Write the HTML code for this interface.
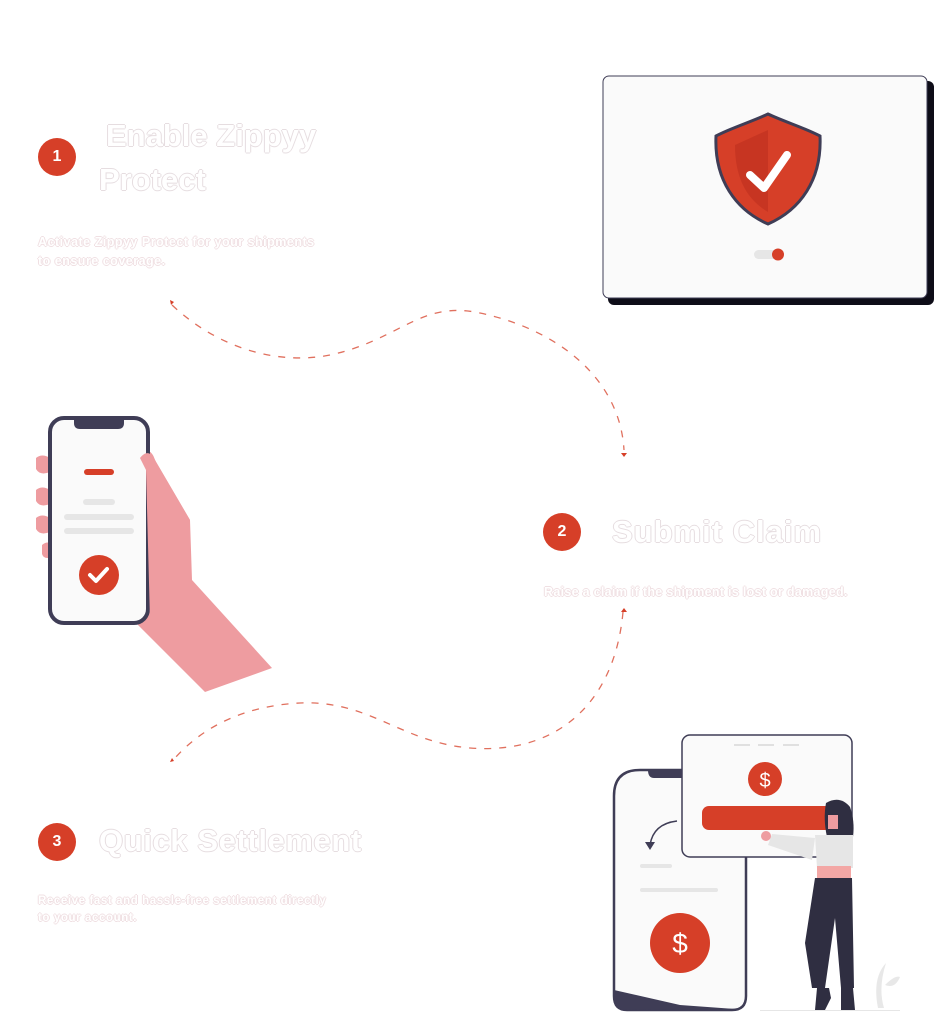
<!DOCTYPE html>
<html><head><meta charset="utf-8">
<style>
html,body{margin:0;padding:0;background:#fff;}
body{width:935px;height:1024px;position:relative;overflow:hidden;font-family:"Liberation Sans",sans-serif;}
.num{position:absolute;width:38px;height:38px;border-radius:50%;background:#d63f28;color:#fff;font-size:16px;font-weight:bold;text-align:center;line-height:38px;}
.h{position:absolute;color:#fff;font-weight:bold;font-size:31px;line-height:36px;white-space:nowrap;
text-shadow:1px 0 0 #e6dde0,-1px 0 0 #e6dde0,0 1px 0 #e6dde0,0 -1px 0 #e6dde0;}
.d{position:absolute;color:#fff;font-size:12.5px;line-height:19px;font-weight:bold;white-space:nowrap;letter-spacing:0.5px;
text-shadow:1px 0 0 #f0e0e3,-1px 0 0 #f0e0e3,0 1px 0 #f0e0e3,0 -1px 0 #f0e0e3;}
svg{position:absolute;left:0;top:0;}
</style></head><body>
<svg width="935" height="1024" viewBox="0 0 935 1024">
<path d="M172,305 C220,350 280,365 330,355 C400,340 420,300 480,313 C560,330 620,380 624,450" fill="none" stroke="#e0705e" stroke-width="1.3" stroke-dasharray="7,8"/>
<path d="M623,612 C615,700 560,755 470,748 C400,742 370,700 300,703 C240,706 200,730 175,758" fill="none" stroke="#e0705e" stroke-width="1.3" stroke-dasharray="7,8"/>
<path d="M170,300 l4,2 -3,3z" fill="#d63f28"/>
<path d="M621,453 l6,0 -3,4z" fill="#d63f28"/>
<path d="M621,612 l6,0 -3,-4z" fill="#d63f28"/>
<path d="M170,762 l4,-1 -2,-3z" fill="#d63f28"/>

<rect x="608" y="81" width="326" height="224" rx="6" fill="#0e0d18"/>
<rect x="603" y="76" width="324" height="222" rx="6" fill="#fafafa" stroke="#3f3d56" stroke-width="1"/>
<path d="M768,114 C785,122 805,128 820,136 C822,180 800,210 768,224 C736,210 714,180 716,136 C731,128 751,122 768,114z" fill="#d63f28" stroke="#3f3d56" stroke-width="3"/>
<path d="M768,130 L735,145 C735,180 748,200 768,212z" fill="#c1321f" opacity="0.7"/>
<path d="M750,175 L764,188 L787,155" fill="none" stroke="#fff" stroke-width="8" stroke-linecap="round" stroke-linejoin="round"/>
<rect x="754" y="250" width="24" height="9" rx="4.5" fill="#e6e6e6"/>
<circle cx="778" cy="254.5" r="6" fill="#d63f28"/>

<path d="M36,458 q6,-5 14,0 v14 q-10,4 -14,-3z M36,490 q6,-5 14,0 v14 q-10,4 -14,-3z M36,518 q6,-5 14,0 v14 q-10,4 -14,-3z M42,545 q6,-5 10,0 v12 q-8,3 -10,-3z" fill="#ee9ca0"/>
<path d="M140,455 C146,448 152,450 155,460 L190,520 L192,580 L272,668 L205,692 L138,625 L140,455z" fill="#ee9ca0"/>
<rect x="50" y="418" width="98" height="205" rx="14" fill="#fafafa" stroke="#3f3d56" stroke-width="4"/>
<path d="M74,418 h50 v5 q0,6 -6,6 h-38 q-6,0 -6,-6z" fill="#3f3d56"/>
<path d="M140,458 C146,450 152,452 156,462 L190,520 L190,600 L150,620 L146,470z" fill="#ee9ca0"/>
<rect x="84" y="469" width="30" height="6" rx="3" fill="#d63f28"/>
<rect x="83" y="499" width="32" height="6" rx="3" fill="#e6e6e6"/>
<rect x="64" y="514" width="70" height="6" rx="3" fill="#e6e6e6"/>
<rect x="64" y="528" width="70" height="6" rx="3" fill="#e6e6e6"/>
<circle cx="99" cy="575" r="20" fill="#d63f28"/>
<path d="M90,575 l6,6 l11,-12" fill="none" stroke="#fff" stroke-width="4" stroke-linecap="round" stroke-linejoin="round"/>

<path d="M640,770 h100 q6,0 6,6 v220 q0,14 -14,14 h-105 q-13,0 -13,-14 v-200 q0,-26 26,-26z" fill="#fafafa" stroke="#3f3d56" stroke-width="2.5"/>
<path d="M614,990 L680,1005 L735,1009 L627,1010 q-13,0 -13,-14z" fill="#3f3d56"/>
<path d="M648,770 h34 v8 h-28 q-6,0 -6,-8z" fill="#3f3d56"/>
<rect x="640" y="864" width="32" height="4" rx="2" fill="#e6e6e6"/>
<rect x="640" y="888" width="78" height="4" rx="2" fill="#e6e6e6"/>
<path d="M677,821 C660,823 652,832 650,845" fill="none" stroke="#3f3d56" stroke-width="1.5"/>
<path d="M645,842 l5,8 l5,-8z" fill="#3f3d56"/>
<circle cx="680" cy="943" r="30" fill="#d63f28"/>
<text x="680" y="953" font-family="Liberation Sans,sans-serif" font-size="28" fill="#fff" text-anchor="middle">$</text>
<rect x="682" y="735" width="170" height="122" rx="8" fill="#fafafa" stroke="#3f3d56" stroke-width="1.5"/>
<rect x="734" y="744" width="16" height="2" fill="#e0e0e0"/><rect x="758" y="744" width="16" height="2" fill="#e0e0e0"/><rect x="783" y="744" width="16" height="2" fill="#e0e0e0"/>
<circle cx="765" cy="779" r="17" fill="#d63f28"/>
<text x="765" y="787" font-family="Liberation Sans,sans-serif" font-size="20" fill="#fff" text-anchor="middle">$</text>
<rect x="702" y="806" width="130" height="24" rx="7" fill="#d63f28"/>
<path d="M826,803 q14,-8 24,4 q5,14 3,30 h-26 q-4,-18 -1,-34z" fill="#2f2e41"/>
<rect x="828" y="815" width="10" height="14" fill="#ee9ca0"/>
<path d="M815,835 h38 v33 h-36z" fill="#e6e6e6"/>
<path d="M815,838 L772,834 L768,845 L812,860z" fill="#e6e6e6"/>
<circle cx="766" cy="836" r="5" fill="#ee9ca0"/>
<rect x="817" y="866" width="34" height="12" fill="#f3a7a5"/>
<path d="M815,878 h37 l2,110 h-13 l-6,-70 l-10,70 h-13 l-7,-45z" fill="#2f2e41"/>
<path d="M817,988 h12 l2,10 l-6,12 h-10z M841,988 h12 l2,22 h-14z" fill="#2f2e41"/>
<path d="M878,1008 q-6,-30 8,-45 q-8,25 -2,45z M885,985 q10,-10 15,-8 q-5,12 -15,8z" fill="#e8e8e8"/>
<rect x="760" y="1010" width="140" height="1" fill="#e6e6e6"/>
</svg>

<div class="num" style="left:38px;top:138px;">1</div>
<div class="h" style="left:106px;top:118px;">Enable Zippyy</div>
<div class="h" style="left:99px;top:162px;">Protect</div>
<div class="d" style="left:38px;top:233px;">Activate Zippyy Protect for your shipments<br>to ensure coverage.</div>

<div class="num" style="left:543px;top:513px;">2</div>
<div class="h" style="left:612px;top:514px;letter-spacing:1px;">Submit Claim</div>
<div class="d" style="left:544px;top:583px;letter-spacing:0.3px;">Raise a claim if the shipment is lost or damaged.</div>

<div class="num" style="left:38px;top:823px;">3</div>
<div class="h" style="left:99px;top:823px;letter-spacing:0.6px;">Quick Settlement</div>
<div class="d" style="left:38px;top:893px;font-size:11.5px;line-height:17px;letter-spacing:0.6px;">Receive fast and hassle-free settlement directly<br>to your account.</div>
</body></html>
